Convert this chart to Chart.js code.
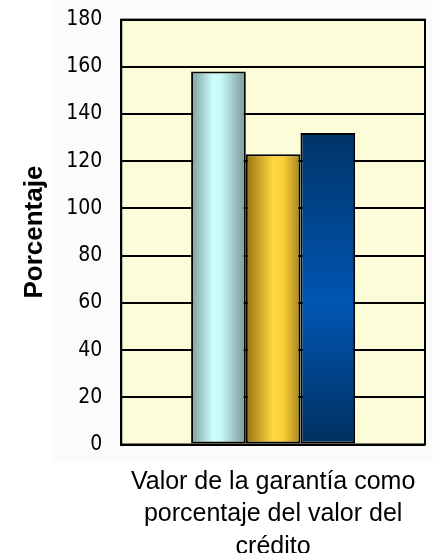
<!DOCTYPE html>
<html>
<head>
<meta charset="utf-8">
<script src="https://cdn.jsdelivr.net/npm/chart.js@4/dist/chart.umd.min.js"></script>
<style>
  html, body { margin: 0; padding: 0; background: #fff; }
  #wrap { width: 433px; height: 553px; }
</style>
</head>
<body>
<div id="wrap"><canvas id="garantiaChart" width="433" height="553"></canvas></div>
<script>
const categories = ['Valor de la garantía'];
const seriesA = [158];
const seriesB = [123];
const seriesC = [132];
const yTicks = [0, 20, 40, 60, 80, 100, 120, 140, 160, 180];
const xTitle = ['Valor de la garantía como', 'porcentaje del valor del', 'crédito'];
const yTitle = 'Porcentaje';

// gradient stops per dataset: [offset, colour], dir 'h' or 'v'
const barShades = [
    { dir: 'h', stops: [[0, '#7c9c9d'], [0.4, '#ccffff'], [0.55, '#c6f8f8'], [1, '#7a9697']] },
    { dir: 'h', stops: [[0, '#94700e'], [0.5, '#ffd840'], [0.68, '#fcd03a'], [1, '#a7821a']] },
    { dir: 'v', stops: [[0, '#003468'], [0.55, '#0056b2'], [1, '#003060']] }
];

const plotBackground = {
    id: 'plotBackground',
    beforeDraw(chart) {
        const { ctx, chartArea: a } = chart;
        ctx.save();
        // faint panel behind the axis labels
        ctx.fillStyle = '#fbfbfb';
        ctx.fillRect(a.left - 68, 0, chart.width - a.left + 68, a.bottom + 18);
        ctx.fillStyle = '#fdfcd9';
        ctx.fillRect(a.left, a.top, a.right - a.left, a.bottom - a.top);
        ctx.restore();
    },
    beforeDatasetsDraw(chart) {
        const ctx = chart.ctx;
        chart.data.datasets.forEach((ds, i) => {
            const meta = chart.getDatasetMeta(i);
            const shade = barShades[i];
            meta.data.forEach(bar => {
                const left = bar.x - bar.width / 2;
                const g = shade.dir === 'h'
                    ? ctx.createLinearGradient(left, 0, left + bar.width, 0)
                    : ctx.createLinearGradient(0, bar.y, 0, bar.base);
                shade.stops.forEach(s => g.addColorStop(s[0], s[1]));
                bar.options = Object.assign({}, bar.options, { backgroundColor: g });
            });
        });
    },
    afterDraw(chart) {
        const { ctx, chartArea: a } = chart;
        ctx.save();
        ctx.strokeStyle = '#000';
        ctx.lineWidth = 2;
        ctx.strokeRect(a.left, a.top, a.right - a.left, a.bottom - a.top);
        ctx.restore();
    }
};

function initializeChart() {
    const ctx = document.getElementById('garantiaChart').getContext('2d');

    const mk = (data) => ({
        data: data,
        backgroundColor: '#888',
        borderColor: '#000',
        borderWidth: 2,
        borderSkipped: false,
        barPercentage: 1,
        categoryPercentage: 0.54
    });

    const config = {
        type: 'bar',
        data: {
            labels: categories,
            datasets: [mk(seriesA), mk(seriesB), mk(seriesC)]
        },
        options: {
            responsive: false,
            animation: false,
            layout: { padding: { left: 19, right: 8, top: 0, bottom: -10 } },
            plugins: {
                legend: { display: false },
                tooltip: { enabled: false }
            },
            scales: {
                x: {
                    grid: { display: false },
                    border: { display: false },
                    ticks: { display: false },
                    title: {
                        display: true,
                        text: xTitle,
                        color: '#000',
                        font: { family: 'Liberation Sans', size: 25, lineHeight: 1.3 },
                        padding: { top: 13, bottom: 0 }
                    }
                },
                y: {
                    min: 0,
                    max: 180,
                    afterBuildTicks: (axis) => { axis.ticks = yTicks.map(v => ({ value: v })); },
                    grid: { color: '#000', lineWidth: 2, drawTicks: false },
                    border: { display: true, color: '#000', width: 2 },
                    ticks: {
                        padding: 7,
                        color: '#000',
                        font: { family: 'DejaVu Sans Condensed', size: 21 },
                        // trailing spaces keep the labels clear of the plot edge
                        callback: (v) => v + '  '
                    },
                    title: {
                        display: true,
                        text: yTitle,
                        color: '#000',
                        font: { family: 'Liberation Sans', size: 26, weight: 'bold' },
                        padding: { top: 0, bottom: 9 }
                    }
                }
            }
        },
        plugins: [plotBackground]
    };

    new Chart(ctx, config);
}

document.addEventListener('DOMContentLoaded', initializeChart);
</script>
</body>
</html>
